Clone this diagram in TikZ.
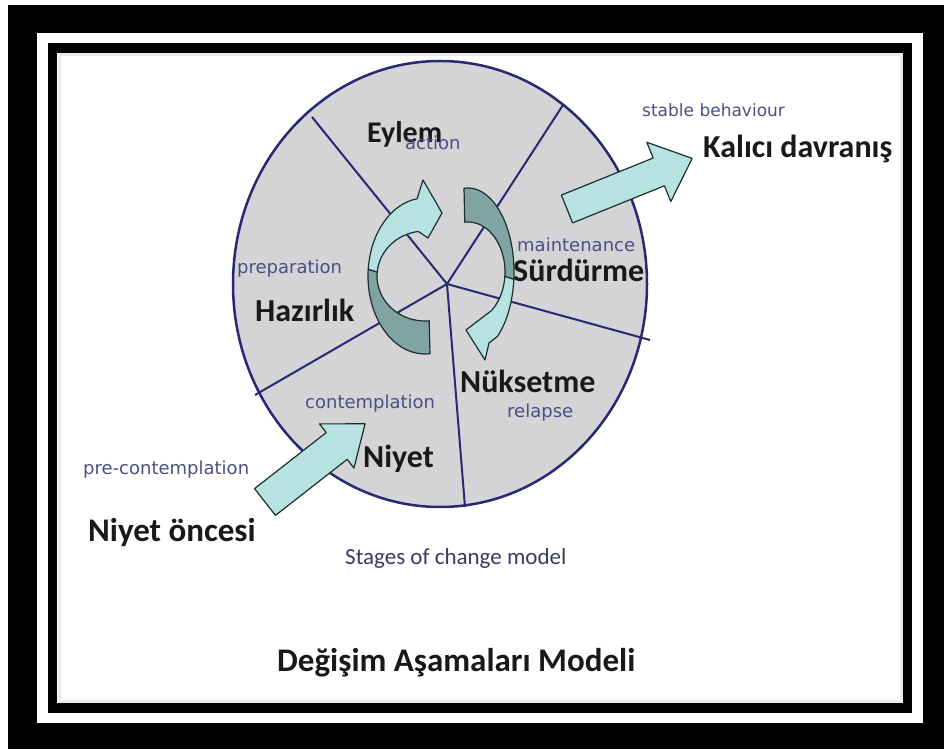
\documentclass[tikz,border=0pt]{standalone}
\usepackage{fontspec}
\setmainfont{Carlito}
\newfontfamily\engfont{DejaVu Sans}
\usetikzlibrary{calc}
\definecolor{navy}{RGB}{40,40,115}
\definecolor{engcol}{RGB}{78,78,132}
\definecolor{discgray}{RGB}{212,212,214}
\definecolor{lightcyan}{RGB}{182,226,226}
\definecolor{darkteal}{RGB}{128,164,164}
\definecolor{outl}{RGB}{30,45,45}

\begin{document}
\begin{tikzpicture}[x=1pt,y=1pt]
\tikzset{stage/.style={font=\bfseries\fontsize{32}{36}\selectfont, text=black!90, inner sep=0pt, anchor=base west}}
\tikzset{eng/.style={font=\engfont\fontsize{18}{20}\selectfont, text=engcol, inner sep=0pt, anchor=base west}}
\tikzset{spoke/.style={draw=navy, line width=2pt}}
\tikzset{fwd/.style={fill=lightcyan, draw=outl, line width=1.2pt, line join=round}}
\tikzset{back/.style={fill=darkteal, draw=outl, line width=1.2pt, line join=round}}

\useasboundingbox (0,0) rectangle (944,749);
% frame
\fill[black] (8,0) rectangle (944,744);
\fill[white] (37,26) rectangle (923,716);
\fill[black] (48,36) rectangle (912,706);
\fill[white] (57,46) rectangle (903,696);
\draw[black!8, line width=3pt] (59,48) rectangle (901,694);

% disc and spokes
\filldraw[fill=discgray, draw=navy, line width=2.5pt] (440,465) ellipse [x radius=207, y radius=223];
\coordinate (hub) at (447,465);
\coordinate (s1) at (312,632);
\coordinate (s2) at (563,644);
\coordinate (s3) at (650,409);
\coordinate (s4) at (465,242);
\coordinate (s5) at (255,354);
\foreach \i in {1,...,5}
  \draw[spoke] (hub) -- (s\i);

% cycle arrows
\coordinate (lc) at (425,473);
\coordinate (rc) at (468,477);
\filldraw[back] ($(lc)+(-85:57 and 78)$) arc[start angle=-85, end angle=-185, x radius=57, y radius=78]
  -- ($(lc)+(-185:48 and 45)$) arc[start angle=-185, end angle=-85, x radius=48, y radius=45] -- cycle;
\filldraw[fwd] ($(lc)+(-185:57 and 78)$) arc[start angle=-185, end angle=-262, x radius=57, y radius=78]
  -- (423,569) -- (442,536) -- (428,511)
  -- ($(lc)+(-262:48 and 45)$) arc[start angle=-262, end angle=-185, x radius=48, y radius=45] -- cycle;
\filldraw[back] ($(rc)+(95:46 and 84)$) arc[start angle=95, end angle=-5, x radius=46, y radius=84]
  -- ($(rc)+(-5:37 and 50)$) arc[start angle=-5, end angle=95, x radius=37, y radius=50] -- cycle;
\filldraw[fwd] ($(rc)+(-5:46 and 84)$) arc[start angle=-5, end angle=-50, x radius=46, y radius=84]
  -- (489,406) -- (485,389) -- (466,419)
  -- ($(rc)+(-50:37 and 50)$) arc[start angle=-50, end angle=-5, x radius=37, y radius=50] -- cycle;

% straight arrows
\begin{scope}[shift={(567,540)}, rotate=22]
  \filldraw[fwd] (0,-15) -- (99,-15) -- (99,-32) -- (135,0) -- (99,32) -- (99,15) -- (0,15) -- cycle;
\end{scope}
\begin{scope}[shift={(265,247)}, rotate=38]
  \filldraw[fwd] (0,-17) -- (91,-17) -- (91,-28) -- (127,0) -- (91,28) -- (91,17) -- (0,17) -- cycle;
\end{scope}

% labels
\node[stage, font=\bfseries\fontsize{30}{34}\selectfont] (eylem) at (367,606) {Eylem};
\node[eng] (action) at (405,599) {action};
\node[eng] (maint) at (517,497) {maintenance};
\node[stage] (surdur) at (513,467) {Sürdürme};
\node[eng] (prep) at (237,475) {preparation};
\node[stage] (hazir) at (255,427) {Hazırlık};
\node[eng] (contem) at (305,340) {contemplation};
\node[stage] (niyet) at (363,281) {Niyet};
\node[stage] (nuks) at (460,356) {Nüksetme};
\node[eng] (relapse) at (507,331) {relapse};
\node[eng, font=\engfont\fontsize{17}{20}\selectfont] (stable) at (642,632) {stable behaviour};
\node[stage, font=\bfseries\fontsize{32}{38}\selectfont] (kalici) at (703,591) {Kalıcı davranış};
\node[eng] (precon) at (83,274) {pre-contemplation};
\node[stage, font=\bfseries\fontsize{33}{38}\selectfont] (oncesi) at (88,207) {Niyet öncesi};
\node[eng, font=\fontsize{23}{26}\selectfont, text=engcol!75!black] (stages) at (345,184) {Stages of change model};
\node[stage, font=\bfseries\fontsize{33}{38}\selectfont] (title) at (277,77) {Değişim Aşamaları Modeli};
\end{tikzpicture}
\end{document}
